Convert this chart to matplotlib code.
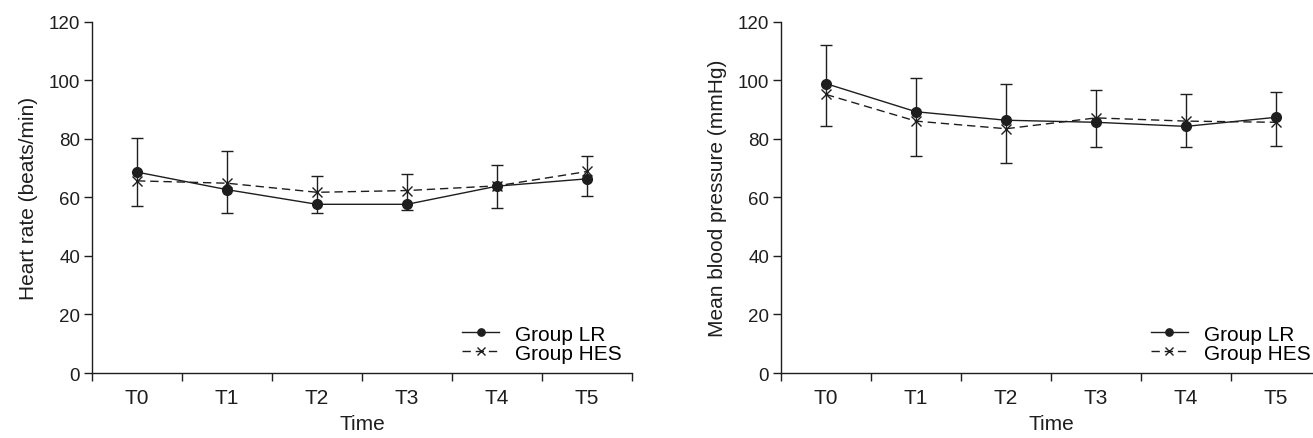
import numpy as np
import matplotlib
matplotlib.use('Agg')
import matplotlib.pyplot as plt

plt.rcParams['font.family'] = ['Liberation Sans', 'DejaVu Sans']

# data
times = ['T0', 'T1', 'T2', 'T3', 'T4', 'T5']

hr_lr = [68.6, 62.6, 57.6, 57.6, 63.8, 66.3]
hr_hes = [65.6, 64.8, 61.7, 62.3, 63.9, 68.8]
hr_low = [56.9, 54.8, 54.8, 55.5, 56.2, 60.5]
hr_high = [80.2, 75.7, 67.4, 67.9, 70.9, 74.0]

mbp_lr = [98.8, 89.2, 86.3, 85.6, 84.2, 87.3]
mbp_hes = [95.1, 86.0, 83.4, 87.1, 86.0, 85.6]
mbp_low = [84.3, 74.0, 71.8, 77.2, 77.3, 77.4]
mbp_high = [111.9, 100.6, 98.6, 96.5, 95.4, 96.1]

ink = '#1e1e1e'
fs = 15
fs_y = 13.5

fig = plt.figure(figsize=(13.13, 4.39), dpi=100)
ax1 = fig.add_axes([0.0701, 0.148, 0.4113, 0.8007])
ax2 = fig.add_axes([0.5948, 0.148, 0.4113, 0.8007])


def panel(ax, lr, hes, lo, hi, ylabel):
    x = np.arange(len(times)) + 0.5
    lr = np.array(lr)
    yerr = [lr - np.array(lo), np.array(hi) - lr]
    ax.errorbar(x, lr, yerr=yerr, fmt='none', ecolor=ink, elinewidth=1.0,
                capsize=4.2, capthick=1.0, zorder=2)
    ax.plot(x, lr, '-', color=ink, lw=1.0, marker='o', ms=7,
            mfc=ink, mec=ink, label='Group LR', zorder=3)
    ax.plot(x, hes, color=ink, lw=1.0, dashes=(6, 3.5), marker='x', ms=7,
            mew=1.0, label='Group HES', zorder=3)

    ax.set_xlim(0, 6)
    ax.set_ylim(0, 120)
    ax.set_yticks(np.arange(0, 121, 20))
    ax.set_xticks(x)
    ax.set_xticklabels(times)
    ax.set_xticks(np.arange(0, 7), minor=True)
    ax.tick_params(axis='x', which='major', length=0, pad=11, labelsize=fs, colors=ink)
    ax.tick_params(axis='x', which='minor', length=6, width=1.0, direction='out', color=ink)
    ax.tick_params(axis='y', length=5.5, width=1.0, direction='out', labelsize=fs_y,
                   pad=3, colors=ink)
    for s in ['top', 'right']:
        ax.spines[s].set_visible(False)
    for s in ['left', 'bottom']:
        ax.spines[s].set_linewidth(1.0)
        ax.spines[s].set_color(ink)
    ax.spines['bottom'].set_bounds(0, 6)
    ax.set_xlabel('Time', fontsize=fs, color=ink, labelpad=5)
    ax.set_ylabel(ylabel, fontsize=fs, color=ink, labelpad=8)
    ax.legend(loc='lower right', frameon=False, fontsize=fs, handlelength=1.8,
              handletextpad=0.75, labelspacing=0.0, borderaxespad=0.1,
              markerscale=0.75, bbox_to_anchor=(1.0, 0.0))


panel(ax1, hr_lr, hr_hes, hr_low, hr_high, 'Heart rate (beats/min)')
panel(ax2, mbp_lr, mbp_hes, mbp_low, mbp_high, 'Mean blood pressure (mmHg)')

fig.savefig('out.png', dpi=100)
